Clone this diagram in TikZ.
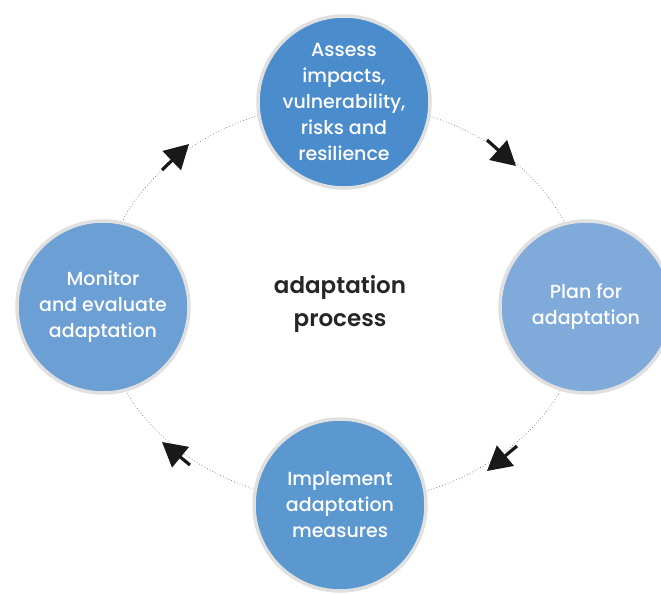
\documentclass[tikz,border=0pt]{standalone}
\usepackage{fontspec}
\setmainfont{Poppins Medium}[BoldFont=Poppins SemiBold]
\usetikzlibrary{arrows.meta}
\definecolor{cTop}{RGB}{74,140,204}
\definecolor{cRight}{RGB}{128,170,218}
\definecolor{cLeft}{RGB}{108,160,213}
\definecolor{cBot}{RGB}{92,152,208}
\definecolor{ringgray}{RGB}{224,224,224}
\definecolor{dotgray}{RGB}{120,120,120}
\tikzset{
  stage/.style={circle, draw=ringgray, line width=3.5pt, minimum size=172pt, inner sep=0pt,
    text=white, align=center, font=\fontsize{19}{26}\selectfont},
  cyclearrow/.style={line width=3.2pt, -{Triangle[length=24pt 0 0,width=26pt 0 0]}, black!90},
  center/.style={align=center, text=black!85, font=\fontsize{23}{33}\selectfont\bfseries}
}
\begin{document}
\begin{tikzpicture}[x=1pt,y=-1pt]
\useasboundingbox (0,0) rectangle (661,594);
\clip (0,0) rectangle (661,594);
\fill[white] (0,0) rectangle (661,594);
\coordinate (c) at (343,303);
\draw[dotgray, line width=0.6pt, dash pattern=on 0.8pt off 2.2pt] (c) ellipse [x radius=242, y radius=200];
\node[stage, fill=cTop] (assess) at (344,102) {Assess\\impacts,\\vulnerability,\\risks and\\resilience};
\node[stage, fill=cRight] (plan) at (586,307) {Plan for\\adaptation};
\node[stage, fill=cBot] (impl) at (340,505) {Implement\\adaptation\\measures};
\node[stage, fill=cLeft] (mon) at (103,307) {Monitor\\and evaluate\\adaptation};
\node[center] (proc) at (340,304) {adaptation\\process};
\coordinate (a1s) at (162,170); \coordinate (a1e) at (189,144);
\coordinate (a2s) at (487,140); \coordinate (a2e) at (516,166);
\coordinate (a3s) at (517,446); \coordinate (a3e) at (487,471);
\coordinate (a4s) at (190,465); \coordinate (a4e) at (162,442);
\draw[cyclearrow] (a1s) -- (a1e);
\draw[cyclearrow] (a2s) -- (a2e);
\draw[cyclearrow] (a3s) -- (a3e);
\draw[cyclearrow] (a4s) -- (a4e);
\end{tikzpicture}
\end{document}
